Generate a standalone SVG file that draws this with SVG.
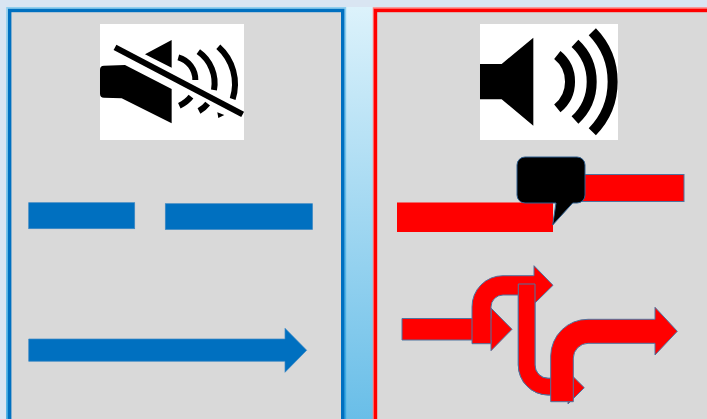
<svg xmlns="http://www.w3.org/2000/svg" width="707" height="419" viewBox="0 0 707 419">
<style>
.panel{fill:#d9d9d9;stroke-width:3.4}
.blue{fill:#0070c0;stroke:#3c88c4;stroke-width:.7}
.red{fill:#ff0000;stroke:#4f74a0;stroke-width:1}
.redflat{fill:#ff0000}
.ink{fill:#000}
.arc{fill:none;stroke:#000;stroke-width:30}
.arcm{fill:none;stroke:#000;stroke-width:18}
</style>
<defs>
<linearGradient id="bg" x1="0" y1="0" x2="0" y2="1">
<stop offset="0" stop-color="#dcf2fb"/>
<stop offset="1" stop-color="#69bee8"/>
</linearGradient>
<linearGradient id="halo" gradientUnits="userSpaceOnUse" x1="0" y1="0" x2="0" y2="419">
<stop offset="0" stop-color="#92cfee"/>
<stop offset="1" stop-color="#36a6e2"/>
</linearGradient>
</defs>
<rect width="707" height="419" fill="#d9e5f2"/>
<rect x="344" y="7" width="32" height="412" fill="url(#bg)"/>
<g id="panel-left">
<path d="M8.700 421V9.500H343.700V421" fill="none" stroke="url(#halo)" stroke-width="5"/>
<rect class="panel" x="9.700" y="10.500" width="333" height="420" stroke="#0070c0"/>
</g>
<g id="panel-right">
<path d="M375.500 421V10H710" fill="none" stroke="#ff8080" stroke-width="5.500"/>
<rect class="panel" x="375.500" y="10.500" width="340" height="420" stroke="#ff0000"/>
</g>
<g id="icon-muted">
<rect x="100" y="24" width="144" height="116" fill="#fff"/>
<g transform="translate(90 15) scale(.3333)">
<path class="ink" d="M165 118L245 75V158ZM42 152L105 150L245 222V325L95 250L42 248Q30 248 30 236V164Q30 152 42 152Z"/>
<path class="arcm" d="M265 127A70 70 0 0 1 316 195M325 110A115 115 0 0 1 372 225M385 95A150 150 0 0 1 428 252M268 272Q290 262 303 245M327 288Q342 280 353 266"/>
<path class="ink" d="M382 292L403 300L385 309Z"/>
<path d="M75 97L458 298" fill="none" stroke="#000" stroke-width="18"/>
</g>
</g>
<g id="icon-sound">
<rect x="480" y="24" width="138" height="116" fill="#fff"/>
<g transform="translate(470 15) scale(.3333)">
<path class="ink" d="M30 147H95L190 68V332L95 253H30Z"/>
<path class="arc" d="M262 120A103 103 0 0 1 262 280M315 85A157 157 0 0 1 315 315M367 50A215 215 0 0 1 367 350"/>
</g>
</g>
<g id="connectors">
<g id="broken-blue">
<rect class="blue" x="28.700" y="202.700" width="106" height="26"/>
<rect class="blue" x="165.300" y="203.700" width="147.200" height="25.800"/>
</g>
<path id="arrow-blue" class="blue" d="M28.700 339H285V328.300L306.700 350.300L285 372.300V361.300H28.700Z"/>
<g id="broken-red">
<rect class="red" x="570" y="174.500" width="114" height="27"/>
<rect class="redflat" x="397" y="202.500" width="156" height="29.500"/>
</g>
<path id="red-arrow-1" class="red" d="M402 318.500H491V308L512 329.300L491 350.700V340H402Z"/>
<path id="red-arrow-4-head" class="red" d="M535 284V365A13 13 0 0 0 548 378.300H568V371.500L584.300 387.700L568 404V395H548A30 30 0 0 1 518.300 365V284Z"/>
<path id="red-arrow-2" class="red" d="M472 343.700V307A31 31 0 0 1 503 275.700H534V265.700L553 285.300L534 304V295H503A12 12 0 0 0 491 307V343.700Z"/>
<path id="red-arrow-3" class="red" d="M535 284V365A13 13 0 0 0 548 378.300H552V395H548A30 30 0 0 1 518.300 365V284Z"/>
<path id="red-arrow-5" class="red" d="M550.700 401.700V356A37 37 0 0 1 588 319.300H655V307.300L677.300 331.300L655 355V343.300H588A15 15 0 0 0 573.300 358V401.700Z"/>
</g>
<g id="callout">
<path d="M525 157H577A8 8 0 0 1 585 165V195A8 8 0 0 1 577 203H572.700L552.700 225L556 203H525A8 8 0 0 1 517 195V165A8 8 0 0 1 525 157Z" fill="#000" stroke="#2e5f8f" stroke-width="1"/>
</g>
</svg>
